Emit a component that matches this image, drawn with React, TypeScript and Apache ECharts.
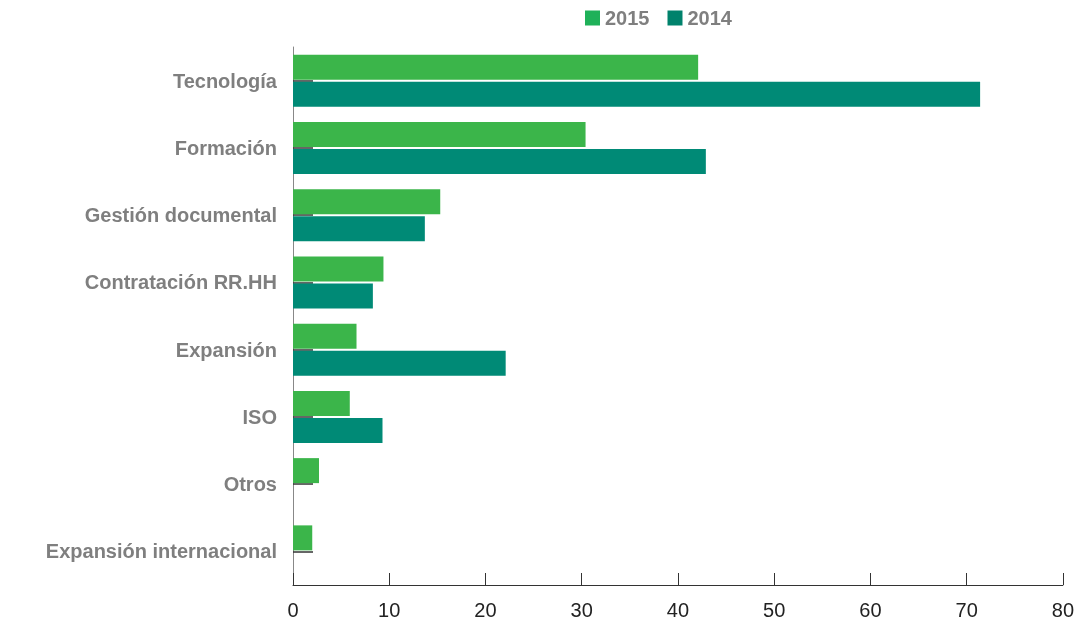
import React, { useEffect, useRef } from "react";
import * as echarts from "echarts";

const categories = [
  "Tecnología",
  "Formación",
  "Gestión documental",
  "Contratación RR.HH",
  "Expansión",
  "ISO",
  "Otros",
  "Expansión internacional",
];
const values2015 = [42.1, 30.4, 15.3, 9.4, 6.6, 5.9, 2.7, 2.0];
const values2014 = [71.4, 42.9, 13.7, 8.3, 22.1, 9.3, 0, 0];
const xTicks = { min: 0, max: 80, interval: 10 };

const GREEN = "#3bb54a";
const TEAL = "#008a76";
const FONT = "'Liberation Sans', Arial, Helvetica, sans-serif";

export default function App() {
  const ref = useRef<HTMLDivElement>(null);
  useEffect(() => {
    if (!ref.current) return;
    const chart = echarts.init(ref.current, undefined, { renderer: "svg" });
    chart.setOption({
      animation: false,
      textStyle: { fontFamily: FONT },
      legend: {
        left: 580,
        top: 3,
        itemWidth: 15,
        itemHeight: 15,
        itemGap: 18,
        icon: "rect",
        data: [
          { name: "2015", itemStyle: { color: "#1fb159" } },
          { name: "2014", itemStyle: { color: "#00826c" } },
        ],
        textStyle: { fontSize: 20, fontWeight: "bold", color: "#7f7f7f", fontFamily: FONT },
      },
      grid: { left: 293, right: 12, top: 47, bottom: 46, containLabel: false },
      xAxis: {
        type: "value",
        min: xTicks.min,
        max: xTicks.max,
        interval: xTicks.interval,
        splitLine: { show: false },
        axisLine: { show: true, lineStyle: { color: "#333", width: 1 } },
        axisTick: { show: true, inside: true, length: 12, lineStyle: { color: "#333" } },
        axisLabel: { fontSize: 20, color: "#222", margin: 15, fontFamily: FONT },
      },
      yAxis: {
        type: "category",
        data: categories,
        inverse: true,
        axisLine: { show: true, lineStyle: { color: "#888", width: 1 } },
        axisTick: {
          show: true,
          inside: true,
          alignWithLabel: true,
          length: 20,
          lineStyle: { color: "#333", width: 1.5 },
        },
        axisLabel: {
          fontSize: 20,
          fontWeight: "bold",
          color: "#7f7f7f",
          margin: 16,
          fontFamily: FONT,
        },
      },
      series: [
        {
          name: "2015",
          type: "bar",
          data: values2015,
          itemStyle: { color: GREEN },
          barWidth: 25,
          barGap: "8%",
          z: 1,
        },
        {
          name: "2014",
          type: "bar",
          data: values2014,
          itemStyle: { color: TEAL },
          barWidth: 25,
          barGap: "8%",
          z: 1,
        },
      ],
    });
    return () => chart.dispose();
  }, []);
  return (
    <div
      ref={ref}
      style={{ position: "fixed", left: 0, top: 0, width: 1077, height: 631 }}
    />
  );
}
